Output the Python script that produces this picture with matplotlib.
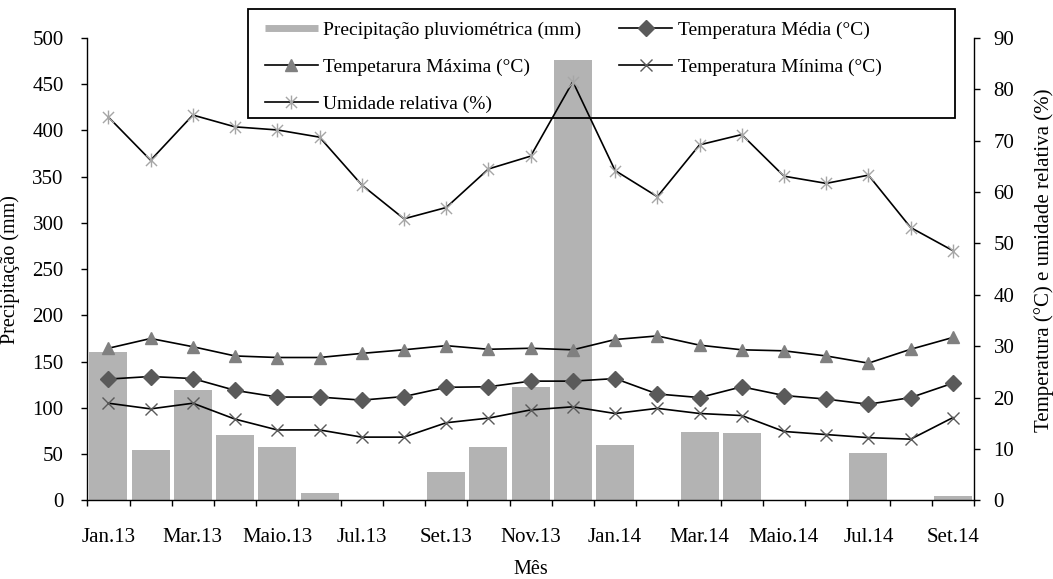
import matplotlib
matplotlib.use('Agg')
import matplotlib.pyplot as plt
from matplotlib.path import Path
from matplotlib.lines import Line2D
from matplotlib.patches import Rectangle
import numpy as np

months = ['Jan.13', 'Fev.13', 'Mar.13', 'Abr.13', 'Maio.13', 'Jun.13', 'Jul.13',
          'Ago.13', 'Set.13', 'Out.13', 'Nov.13', 'Dez.13', 'Jan.14', 'Fev.14',
          'Mar.14', 'Abr.14', 'Maio.14', 'Jun.14', 'Jul.14', 'Ago.14', 'Set.14']
precip = [160, 54, 119, 71, 58, 8, 0, 0, 31, 58, 123, 476, 60, 0, 74, 73, 0, 0, 51, 0, 5]
t_max = [29.6, 31.5, 29.9, 28.1, 27.8, 27.8, 28.6, 29.3, 30.1, 29.4, 29.6, 29.3,
         31.3, 32.0, 30.2, 29.3, 29.1, 28.1, 26.7, 29.4, 31.7]
t_med = [23.6, 24.1, 23.7, 21.4, 20.1, 20.1, 19.5, 20.2, 22.0, 22.1, 23.2, 23.2,
         23.7, 20.7, 20.0, 22.1, 20.4, 19.7, 18.7, 20.0, 22.8]
t_min = [18.9, 17.8, 18.9, 15.8, 13.7, 13.7, 12.3, 12.3, 15.1, 16.0, 17.6, 18.2,
         16.9, 17.9, 16.9, 16.5, 13.4, 12.8, 12.2, 11.9, 16.1]
umid = [74.6, 66.2, 75.0, 72.7, 72.1, 70.7, 61.4, 54.8, 57.0, 64.5, 67.0, 81.5,
        64.2, 59.1, 69.2, 71.2, 63.1, 61.7, 63.3, 53.1, 48.6]

labels = ['Precipitação pluviométrica (mm)', 'Tempetarura Máxima (°C)',
          'Umidade relativa (%)', 'Temperatura Média (°C)', 'Temperatura Mínima (°C)']

plt.rcParams['font.family'] = ['Liberation Serif', 'DejaVu Serif']
plt.rcParams['font.size'] = 14

W, H = 1053, 579
fig = plt.figure(figsize=(W / 100, H / 100), dpi=100)
L, R, T, B = 87.3, 974.0, 38.0, 500.3
ax = fig.add_axes([L / W, 1 - B / H, (R - L) / W, (B - T) / H])

x = np.arange(len(months))
ax.bar(x, precip, width=0.9, color='#b3b3b3', edgecolor='none', zorder=1)
ax.set_xlim(-0.5, len(months) - 0.5)
ax.set_ylim(0, 500)
ax.set_yticks(np.arange(0, 501, 50))

ax.set_xticks(np.arange(-0.5, len(months), 1.0))
ax.set_xticklabels([])
ax.set_xticks(x, minor=True)
ax.set_xticklabels([m if i % 2 == 0 else '' for i, m in enumerate(months)], minor=True)
ax.tick_params(axis='x', which='major', direction='out', length=4, width=1)
ax.tick_params(axis='x', which='minor', length=0, pad=20, labelsize=15)
ax.tick_params(axis='y', direction='out', length=4, width=1, pad=13, labelsize=15)

for s in ['top', 'right']:
    ax.spines[s].set_visible(False)
for s in ['left', 'bottom']:
    ax.spines[s].set_linewidth(1.0)

ax2 = ax.twinx()
ax2.set_ylim(0, 90)
ax2.set_yticks(np.arange(0, 91, 10))
ax2.tick_params(axis='y', direction='out', length=4, width=1, pad=10, labelsize=15)
for s in ['top', 'left', 'bottom']:
    ax2.spines[s].set_visible(False)
ax2.spines['right'].set_linewidth(1.0)

star = Path([(-1, -1), (1, 1), (-1, 1), (1, -1), (0, -1.25), (0, 1.25)],
            [Path.MOVETO, Path.LINETO, Path.MOVETO, Path.LINETO, Path.MOVETO, Path.LINETO])

lw = 1.2
l_max, = ax2.plot(x, t_max, color='black', lw=lw, marker='^', markersize=9,
                  markerfacecolor='#808080', markeredgecolor='#808080')
l_med, = ax2.plot(x, t_med, color='black', lw=lw, marker='D', markersize=8,
                  markerfacecolor='#5a5a5a', markeredgecolor='#5a5a5a')
l_min, = ax2.plot(x, t_min, color='black', lw=lw, marker='x', markersize=9,
                  markeredgecolor='#5a5a5a', markeredgewidth=1.0)
l_hum, = ax2.plot(x, umid, color='black', lw=lw, marker=star, markersize=10,
                  markerfacecolor='none', markeredgecolor='#a6a6a6', markeredgewidth=1.0)

ax.set_ylabel('Precipitação (mm)', fontsize=14.5)
ax.yaxis.set_label_coords((20 - L) / (R - L), 0.5)
ax2.set_ylabel('Temperatura (°C) e umidade relativa (%)', fontsize=15)
ax2.yaxis.set_label_coords((1034 - L) / (R - L), 0.52)
ax.set_xlabel('Mês', fontsize=14.5)
ax.xaxis.set_label_coords(0.5, (B - 560) / (B - T))

h_bar = Line2D([], [], color='#b3b3b3', lw=5, solid_capstyle='butt')
leg = ax2.legend([h_bar, l_max, l_hum, l_med, l_min], labels, ncol=2,
                 loc='upper left', bbox_to_anchor=(265 / W, 1 - 21 / H),
                 bbox_transform=fig.transFigure, frameon=False, borderpad=0,
                 borderaxespad=0, handlelength=2.7, handletextpad=0.3,
                 columnspacing=1.95, labelspacing=1.0)

fig.add_artist(Rectangle((248 / W, 1 - 118 / H), (955 - 248) / W, (118 - 9) / H,
                         transform=fig.transFigure, fill=False,
                         edgecolor='black', lw=1.3))

fig.savefig('out.png', dpi=100)
